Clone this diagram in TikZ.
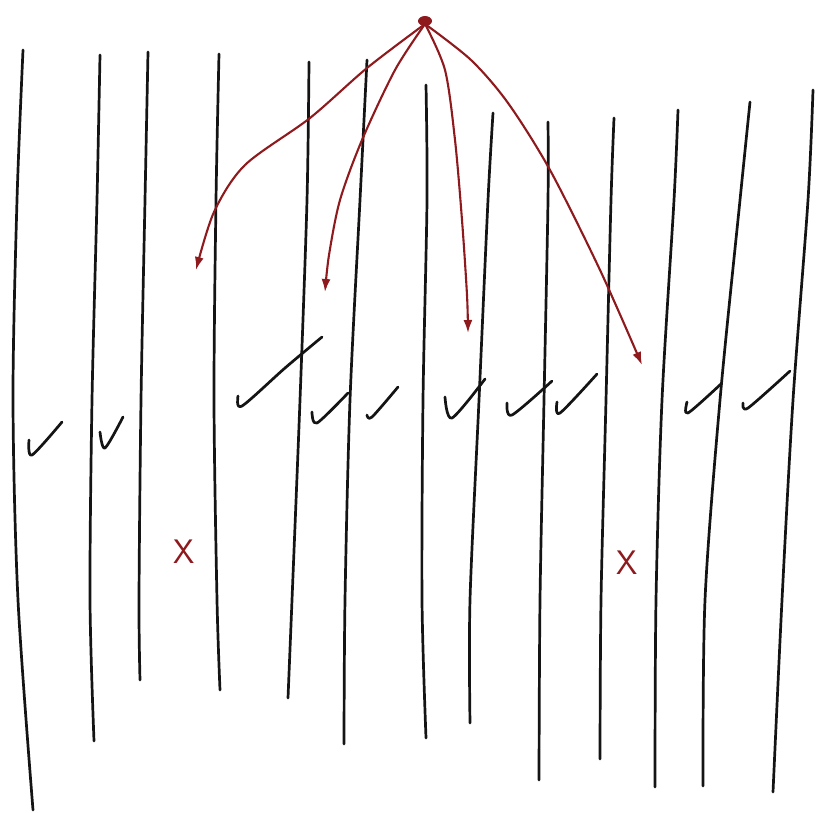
\documentclass[tikz,border=0pt]{standalone}
\usetikzlibrary{arrows.meta}
\definecolor{ink}{HTML}{141414}
\definecolor{redink}{HTML}{8E1A1E}
\tikzset{
  strand/.style={draw=ink, line width=2.7pt, line cap=round, line join=round},
  tick/.style={draw=ink, line width=2.7pt, line cap=round, line join=round},
  branch/.style={draw=redink, line width=2.1pt, line cap=round,
    -{Latex[length=13pt,width=9pt]}},
  cross/.style={text=redink, font=\sffamily\fontsize{34}{34}\selectfont, inner sep=0pt}
}
\begin{document}
\begin{tikzpicture}[x=1pt, y=-1pt]
\useasboundingbox (0,0) rectangle (816,812);
\fill[white] (0,0) rectangle (816,812);

% vertical strands
\draw[strand] plot[smooth] coordinates {(23,50) (17,200) (13,400) (18,600) (33,810)};
\draw[strand] plot[smooth] coordinates {(100,55) (97,200) (92,400) (90,600) (94,741)};
\draw[strand] plot[smooth] coordinates {(148,52) (145,200) (141,400) (139,600) (140,680)};
\draw[strand] plot[smooth] coordinates {(219,54) (216,200) (214,400) (217,600) (220,690)};
\draw[strand] plot[smooth] coordinates {(309,62) (307,200) (300,400) (292,600) (288,698)};
\draw[strand] plot[smooth] coordinates {(367,60) (360,200) (350,400) (345,600) (344,744)};
\draw[strand] plot[smooth] coordinates {(426,85) (427,200) (423,400) (422,600) (426,738)};
\draw[strand] plot[smooth] coordinates {(493,113) (488,200) (479,400) (470,600) (470,723)};
\draw[strand] plot[smooth] coordinates {(548,122) (548,200) (544,400) (540,600) (539,780)};
\draw[strand] plot[smooth] coordinates {(614,118) (611,200) (606,400) (601,600) (600,759)};
\draw[strand] plot[smooth] coordinates {(678,110) (674,200) (662,400) (656,600) (655,787)};
\draw[strand] plot[smooth] coordinates {(750,102) (740,200) (720,400) (705,600) (703,786)};
\draw[strand] plot[smooth] coordinates {(813,90) (808,200) (793,400) (782,600) (773,792)};

% red branches from the top knot
\coordinate (apex) at (425,24);
\draw[branch] plot[smooth] coordinates {(apex) (367,68) (310,118) (245,165) (214,212) (196,270)};
\draw[branch] plot[smooth] coordinates {(apex) (395,70) (362,140) (340,200) (329,255) (325,292)};
\draw[branch] plot[smooth] coordinates {(apex) (445,70) (455,140) (462,220) (467,295) (468,333)};
\draw[branch] plot[smooth] coordinates {(apex) (471,60) (508,103) (550,170) (600,270) (642,365)};
\fill[redink] (apex) ++(0,-3) ellipse [x radius=7pt, y radius=5pt];

% check marks
\draw[tick] plot[smooth] coordinates {(29,440) (32,455) (62,422)};
\draw[tick] plot[smooth] coordinates {(100,432) (105,448) (123,417)};
\draw[tick] plot[smooth] coordinates {(238,396) (242,406) (285,368) (322,337)};
\draw[tick] plot[smooth] coordinates {(312,412) (317,423) (348,393)};
\draw[tick] plot[smooth] coordinates {(367,415) (372,417) (398,387)};
\draw[tick] plot[smooth] coordinates {(445,397) (452,418) (485,379)};
\draw[tick] plot[smooth] coordinates {(507,403) (512,415) (552,381)};
\draw[tick] plot[smooth] coordinates {(557,402) (560,413) (597,374)};
\draw[tick] plot[smooth] coordinates {(687,402) (688,413) (722,383)};
\draw[tick] plot[smooth] coordinates {(743,403) (748,408) (790,371)};

% red crosses
\node[cross] (x1) at (184,552) {X};
\node[cross] (x2) at (627,563) {X};
\end{tikzpicture}
\end{document}
